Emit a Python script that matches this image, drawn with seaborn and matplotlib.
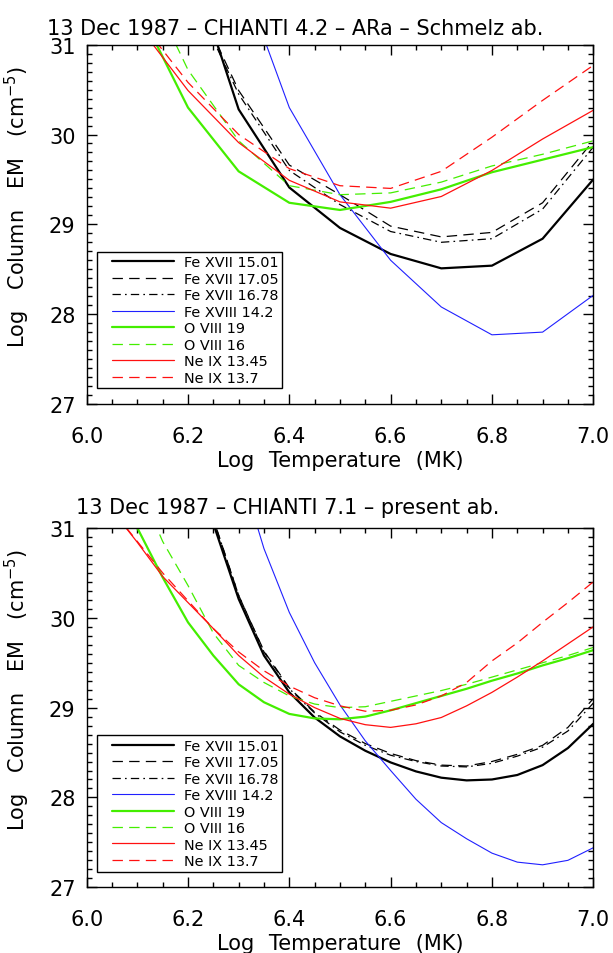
import matplotlib
matplotlib.use("Agg")
import matplotlib.pyplot as plt
from matplotlib.ticker import MultipleLocator
from matplotlib.lines import Line2D
from matplotlib.legend_handler import HandlerLine2D
import seaborn as sns

# ---- CHIANTI 4.2 / ARa / Schmelz abundances (0.1 dex grid) ----
temp_a = [6.0, 6.1, 6.2, 6.3, 6.4, 6.5, 6.6, 6.7, 6.8, 6.9, 7.0]
fe17_1501_a = [34.0, 33.0, 32.0, 30.28, 29.41, 28.96, 28.67, 28.51, 28.54, 28.84, 29.50]
fe17_1705_a = [34.0, 33.0, 31.70, 30.49, 29.66, 29.33, 28.98, 28.86, 28.91, 29.24, 29.93]
fe17_1678_a = [34.0, 33.0, 31.65, 30.45, 29.60, 29.22, 28.92, 28.80, 28.84, 29.17, 29.86]
fe18_142_a = [35.0, 34.0, 33.0, 31.84, 30.30, 29.33, 28.60, 28.08, 27.77, 27.80, 28.21]
o8_19_a = [32.6, 31.43, 30.30, 29.59, 29.24, 29.16, 29.25, 29.39, 29.58, 29.72, 29.86]
o8_16_a = [33.5, 31.9, 30.72, 29.93, 29.43, 29.33, 29.35, 29.47, 29.65, 29.78, 29.93]
ne9_1345_a = [32.3, 31.23, 30.49, 29.91, 29.49, 29.25, 29.18, 29.31, 29.60, 29.95, 30.27]
ne9_137_a = [32.4, 31.3, 30.58, 30.00, 29.62, 29.43, 29.40, 29.59, 29.97, 30.38, 30.77]

# ---- CHIANTI 7.1 / present abundances (0.05 dex grid) ----
temp_b = [6.0, 6.05, 6.1, 6.15, 6.2, 6.25, 6.3, 6.35, 6.4, 6.45, 6.5,
          6.55, 6.6, 6.65, 6.7, 6.75, 6.8, 6.85, 6.9, 6.95, 7.0]
fe17_1501_b = [35.0, 34.3, 33.6, 32.9, 31.9, 31.05, 30.21, 29.58, 29.17, 28.89, 28.68,
               28.52, 28.39, 28.29, 28.22, 28.19, 28.20, 28.25, 28.36, 28.55, 28.82]
fe17_1705_b = [35.0, 34.3, 33.6, 32.9, 31.95, 31.10, 30.25, 29.63, 29.22, 28.95, 28.75,
               28.60, 28.49, 28.41, 28.36, 28.35, 28.40, 28.48, 28.58, 28.78, 29.10]
fe17_1678_b = [35.0, 34.3, 33.6, 32.9, 31.95, 31.10, 30.25, 29.62, 29.21, 28.94, 28.73,
               28.58, 28.47, 28.40, 28.35, 28.34, 28.38, 28.46, 28.56, 28.74, 29.05]
fe18_142_b = [36.0, 35.4, 34.8, 34.2, 33.6, 32.7, 31.7, 30.77, 30.06, 29.50, 29.03,
              28.63, 28.30, 27.98, 27.72, 27.54, 27.38, 27.28, 27.25, 27.30, 27.44]
o8_19_b = [32.4, 31.6, 31.0, 30.45, 29.95, 29.58, 29.26, 29.06, 28.93, 28.88, 28.87,
           28.90, 28.97, 29.05, 29.13, 29.21, 29.30, 29.38, 29.47, 29.55, 29.64]
o8_16_b = [33.0, 32.2, 31.5, 30.85, 30.36, 29.83, 29.47, 29.28, 29.13, 29.04, 29.00,
           29.01, 29.07, 29.13, 29.19, 29.26, 29.34, 29.42, 29.50, 29.58, 29.67]
ne9_1345_b = [31.6, 31.2, 30.84, 30.46, 30.17, 29.88, 29.58, 29.34, 29.15, 29.00, 28.88,
              28.81, 28.78, 28.82, 28.89, 29.02, 29.17, 29.34, 29.52, 29.71, 29.90]
ne9_137_b = [31.6, 31.2, 30.85, 30.50, 30.19, 29.88, 29.62, 29.41, 29.24, 29.11, 29.02,
             28.96, 28.97, 29.03, 29.13, 29.28, 29.52, 29.72, 29.95, 30.17, 30.40]

line_labels = ["Fe XVII 15.01", "Fe XVII 17.05", "Fe XVII 16.78", "Fe XVIII 14.2",
               "O VIII 19", "O VIII 16", "Ne IX 13.45", "Ne IX 13.7"]

panel_titles = ["13 Dec 1987 \u2013 CHIANTI 4.2 \u2013 ARa \u2013 Schmelz ab.",
                "13 Dec 1987 \u2013 CHIANTI 7.1 \u2013 present ab."]

# wide word gaps, as in the vector-font axis titles
x_title = "Log\u2002\u2009Temperature\u2002\u2009(MK)"
y_title = "Log\u2003Column\u2003EM\u2003(cm$^{-5}$)"

x_ticks = [6.0, 6.2, 6.4, 6.6, 6.8, 7.0]
x_ticklabels = ["6.0", "6.2", "6.4", "6.6", "6.8", "7.0"]
y_ticks = [27, 28, 29, 30, 31]
y_ticklabels = ["27", "28", "29", "30", "31"]

# line appearance: colour, width (pt), linestyle
DASH = (0, (7.5, 4.5))
DASHDOT = (0, (6.0, 3.0, 1.2, 3.0))
styles = [
    ("black", 1.6, "-"),
    ("black", 0.9, DASH),
    ("black", 0.9, DASHDOT),
    ("#2020ff", 0.8, "-"),
    ("#44ee00", 1.6, "-"),
    ("#44ee00", 0.9, DASH),
    ("#ff1010", 0.9, "-"),
    ("#ff1010", 0.9, DASH),
]


class InsetLineHandler(HandlerLine2D):
    """Legend sample line that starts a little way into its handle box."""

    def __init__(self, lead, **kw):
        super().__init__(**kw)
        self.lead = lead

    def get_xdata(self, legend, xdescent, ydescent, width, height, fontsize):
        x0 = -xdescent + self.lead
        x1 = -xdescent + width
        return [x0, x1], [0.5 * (x0 + x1)]


sns.set_style("ticks")
plt.rcParams["font.family"] = ["DejaVu Sans"]
plt.rcParams["lines.scale_dashes"] = False
plt.rcParams["axes.linewidth"] = 1.0
for key in ("text.color", "axes.labelcolor", "xtick.color", "ytick.color", "axes.edgecolor"):
    plt.rcParams[key] = "black"

fig = plt.figure(figsize=(6.13, 9.54), dpi=100)
ax_top = fig.add_axes([0.1414, 0.5755, 0.8264, 0.3766])
ax_bot = fig.add_axes([0.1414, 0.0689, 0.8264, 0.3766])

panels = [
    (ax_top, temp_a, [fe17_1501_a, fe17_1705_a, fe17_1678_a, fe18_142_a,
                      o8_19_a, o8_16_a, ne9_1345_a, ne9_137_a]),
    (ax_bot, temp_b, [fe17_1501_b, fe17_1705_b, fe17_1678_b, fe18_142_b,
                      o8_19_b, o8_16_b, ne9_1345_b, ne9_137_b]),
]

FS = 15
for ax, temps, series in panels:
    for vals, lbl, (col, lw, ls) in zip(series, line_labels, styles):
        sns.lineplot(x=temps, y=vals, ax=ax, color=col, lw=lw, linestyle=ls,
                     label=lbl, sort=False, estimator=None)
    ax.set_xlim(6.0, 7.0)
    ax.set_ylim(27, 31)
    ax.set_xticks(x_ticks)
    ax.set_xticklabels(x_ticklabels)
    ax.set_yticks(y_ticks)
    ax.set_yticklabels(y_ticklabels)
    ax.xaxis.set_minor_locator(MultipleLocator(0.05))
    ax.yaxis.set_minor_locator(MultipleLocator(0.1))
    ax.tick_params(which="both", direction="in", top=True, right=True,
                   width=1.0, colors="black", labelsize=FS)
    ax.tick_params(which="major", length=7.2)
    ax.tick_params(which="minor", length=3.6)
    ax.tick_params(axis="x", which="major", pad=15.5)
    ax.tick_params(axis="y", which="major", pad=8)
    for sp in ax.spines.values():
        sp.set_visible(True)
        sp.set_color("black")
    ax.set_xlabel(x_title, fontsize=FS, labelpad=3)
    ax.set_ylabel(y_title, fontsize=FS)
    ax.yaxis.set_label_coords(-0.108, 0.552)
    leg = ax.legend(loc="lower left", bbox_to_anchor=(0.0197, 0.0437),
                    fontsize=10.4, frameon=True, fancybox=False,
                    handlelength=5.1, handletextpad=0.7, labelspacing=0.17,
                    borderpad=0.25, borderaxespad=0.0,
                    handler_map={Line2D: InsetLineHandler(8.6)})
    leg.get_frame().set_edgecolor("black")
    leg.get_frame().set_linewidth(1.0)
    leg.get_frame().set_alpha(1.0)

fig.text(0.481, 1 - 34.6 / 954, panel_titles[0], ha="center", va="baseline", fontsize=FS)
fig.text(0.470, 1 - 514.4 / 954, panel_titles[1], ha="center", va="baseline", fontsize=FS)

fig.savefig("out.png", dpi=100, facecolor="white")
